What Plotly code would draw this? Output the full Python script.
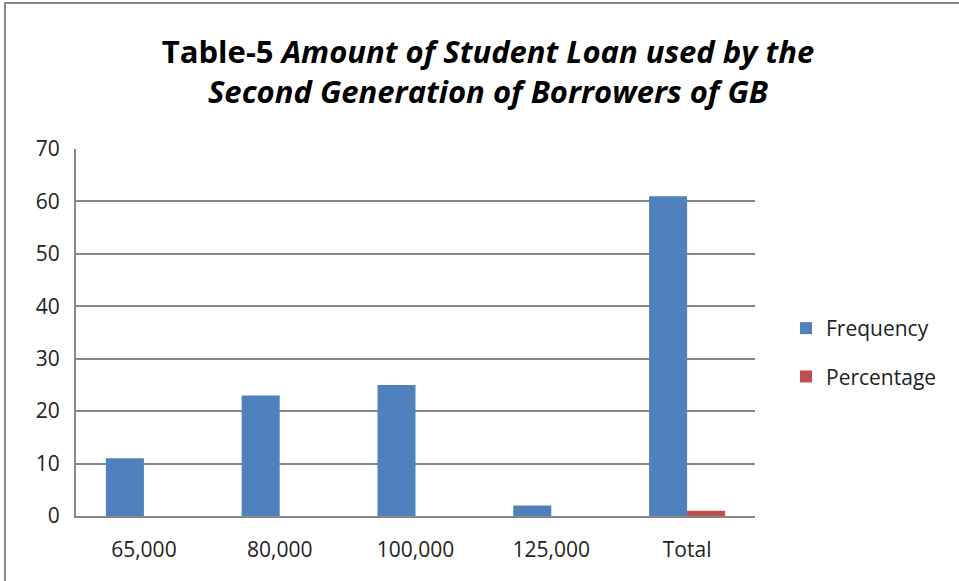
import plotly.graph_objects as go

categories = ["65,000", "80,000", "100,000", "125,000", "Total"]
frequency = [11, 23, 25, 2, 61]
percentage = [0, 0, 0, 0, 1.0]

W, H = 959, 581
L, R, T, B = 76, 204, 149, 65
pw, ph = W - L - R, H - T - B

def px(x):
    return (x - L) / pw

def py(y):
    return (H - B - y) / ph

fig = go.Figure()
fig.add_trace(go.Bar(x=categories, y=frequency, name="Frequency", legendgroup="f",
                     marker=dict(color="#4F81BD", line=dict(width=0))))
fig.add_trace(go.Bar(x=categories, y=percentage, name="Percentage", legendgroup="p",
                     marker=dict(color="#C0504D", line=dict(width=0))))

fig.update_layout(
    width=W, height=H,
    margin=dict(l=L, r=R, t=T, b=B),
    paper_bgcolor="white", plot_bgcolor="white",
    barmode="group", bargap=0.44, bargroupgap=0,
    font=dict(family="Open Sans", color="#222222"),
    title=dict(
        text="<b>Table-5 <i>Amount of Student Loan used by the</i><br><i>Second Generation of Borrowers of GB</i></b>",
        x=px(488), xanchor="center", xref="paper", y=1 - 63 / H, yanchor="middle",
        font=dict(family="Open Sans", size=31, color="black"),
    ),
    xaxis=dict(showgrid=False, showline=True, linecolor="#868686", linewidth=2,
               tickfont=dict(size=21, color="#222222"), ticks="", layer="above traces",
               ticklabelstandoff=14),
    yaxis=dict(range=[0, 70], dtick=10, showgrid=True, gridcolor="#868686", gridwidth=2,
               showline=True, linecolor="#868686", linewidth=2, zeroline=False,
               ticks="", ticklabelstandoff=10,
               tickfont=dict(size=21, color="#222222")),
    legend=dict(x=px(786), y=py(308), xanchor="left", yanchor="top",
                font=dict(size=21, color="#222222"), tracegroupgap=18,
                traceorder="grouped", itemwidth=30, bgcolor="rgba(0,0,0,0)"),
    shapes=[dict(type="rect", xref="paper", yref="paper",
                 x0=px(5), x1=px(990), y0=py(3), y1=py(600),
                 line=dict(color="#878787", width=2), layer="below")],
)

fig.write_html("out.html", config={"displayModeBar": False},
               post_script="document.body.style.margin='0';document.body.style.overflow='hidden';")
